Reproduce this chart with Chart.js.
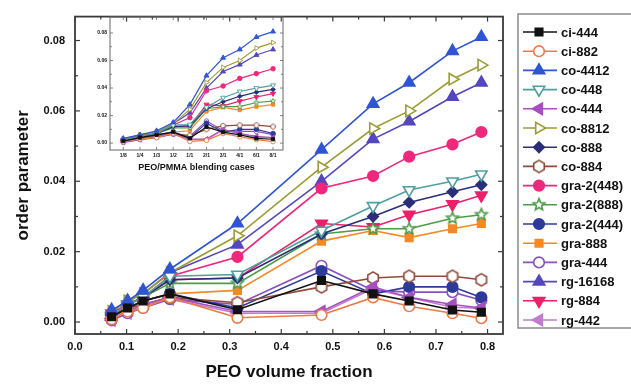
<!DOCTYPE html>
<html>
<head>
<meta charset="utf-8">
<script src="https://cdn.jsdelivr.net/npm/chart.js@4/dist/chart.umd.min.js"></script>
<style>
html, body { margin: 0; padding: 0; background: #fff; }
#wrap { position: relative; width: 631px; height: 385px; overflow: hidden; }
#main { position: absolute; left: 0; top: 0; }
#inset { position: absolute; left: 78px; top: 10px; }
</style>
</head>
<body>
<div id="wrap">
  <canvas id="main" width="631" height="385"></canvas>
  <canvas id="inset" width="212" height="165"></canvas>
</div>
<script>
// x values: PEO volume fraction, and the matching blend ratios for the inset
const peoFraction = [0.071, 0.102, 0.132, 0.184, 0.315, 0.478, 0.578, 0.648, 0.732, 0.788];
const blendCases = ['1/8', '1/4', '1/3', '1/2', '1/1', '2/1', '3/1', '4/1', '6/1', '8/1'];
const xTicks = [0, 0.1, 0.2, 0.3, 0.4, 0.5, 0.6, 0.7, 0.8];
const yTicks = [0, 0.02, 0.04, 0.06, 0.08];

// order parameter per system
const ci444   = [0.0015, 0.004, 0.006, 0.008, 0.0035, 0.0118, 0.008, 0.006, 0.0034, 0.0028];
const ci882   = [0.0008, 0.003, 0.004, 0.007, 0.0012, 0.002, 0.007, 0.0045, 0.0025, 0.0011];
const co4412  = [0.0034, 0.006, 0.009, 0.015, 0.028, 0.049, 0.062, 0.068, 0.077, 0.081];
const co448   = [0.002, 0.005, 0.007, 0.013, 0.0135, 0.026, 0.033, 0.0375, 0.040, 0.042];
const co444   = [0.001, 0.003, 0.005, 0.007, 0.003, 0.003, 0.010, 0.007, 0.005, 0.004];
const co8812  = [0.003, 0.006, 0.008, 0.014, 0.0245, 0.044, 0.055, 0.060, 0.069, 0.073];
const co888   = [0.002, 0.005, 0.007, 0.012, 0.0125, 0.025, 0.030, 0.034, 0.037, 0.039];
const co884   = [0.0015, 0.004, 0.005, 0.007, 0.0055, 0.010, 0.0125, 0.013, 0.013, 0.012];
const gra2448 = [0.0025, 0.005, 0.007, 0.013, 0.0185, 0.038, 0.0415, 0.047, 0.0505, 0.054];
const gra2888 = [0.002, 0.005, 0.007, 0.011, 0.011, 0.025, 0.0265, 0.0265, 0.0295, 0.0305];
const gra2444 = [0.0015, 0.004, 0.006, 0.008, 0.004, 0.0145, 0.008, 0.010, 0.010, 0.007];
const gra888  = [0.002, 0.004, 0.006, 0.008, 0.009, 0.023, 0.026, 0.024, 0.0265, 0.028];
const gra444  = [0.0005, 0.0025, 0.004, 0.0065, 0.005, 0.016, 0.009, 0.0085, 0.0085, 0.0062];
const rg16168 = [0.003, 0.006, 0.008, 0.014, 0.022, 0.040, 0.052, 0.057, 0.064, 0.068];
const rg884   = [0.0025, 0.005, 0.007, 0.012, 0.0125, 0.028, 0.027, 0.0305, 0.0335, 0.036];
const rg442   = [0.0005, 0.0025, 0.0045, 0.0065, 0.0025, 0.0025, 0.0095, 0.007, 0.0042, 0.0039];

const names = ['ci-444', 'ci-882', 'co-4412', 'co-448', 'co-444', 'co-8812', 'co-888', 'co-884',
  'gra-2(448)', 'gra-2(888)', 'gra-2(444)', 'gra-888', 'gra-444', 'rg-16168', 'rg-884', 'rg-442'];
const values = [ci444, ci882, co4412, co448, co444, co8812, co888, co884,
  gra2448, gra2888, gra2444, gra888, gra444, rg16168, rg884, rg442];

// look of each series: colour, marker, rotation, open/filled
const looks = [
  ['#111111', 'rect', 0, false],
  ['#f07a45', 'circle', 0, true],
  ['#2f55d4', 'triangle', 0, false],
  ['#4f9f9c', 'triangle', 180, true],
  ['#a64fc0', 'triangle', 270, false],
  ['#9c9c35', 'triangle', 90, true],
  ['#2b2f7a', 'rectRot', 0, false],
  ['#8f4a3a', 'hexagon', 0, true],
  ['#f0287c', 'circle', 0, false],
  ['#4d9a4a', 'star5', 0, true],
  ['#2e3a9a', 'circle', 0, false],
  ['#f58a25', 'rect', 0, false],
  ['#8a4fc0', 'circle', 0, true],
  ['#5347c0', 'triangle', 0, false],
  ['#ee1f6a', 'triangle', 180, false],
  ['#c07ccf', 'triangle', 270, false]
];

Chart.defaults.font.family = '"Liberation Sans", Arial, sans-serif';
Chart.defaults.font.weight = 'bold';
Chart.defaults.color = '#111';

// canvas markers for shapes Chart.js does not have
function shape(kind, r, color, lw) {
  const s = Math.ceil(r * 2 + lw * 2 + 2);
  const c = document.createElement('canvas');
  c.width = s; c.height = s;
  const g = c.getContext('2d');
  const n = kind === 'hexagon' ? 6 : 10;
  g.beginPath();
  for (let i = 0; i < n; i++) {
    const a = -Math.PI / 2 + i * 2 * Math.PI / n;
    const rr = kind === 'star5' && i % 2 ? r * 0.45 : r;
    const px = s / 2 + rr * Math.cos(a), py = s / 2 + rr * Math.sin(a);
    i ? g.lineTo(px, py) : g.moveTo(px, py);
  }
  g.closePath();
  g.fillStyle = '#fff'; g.fill();
  g.lineWidth = lw; g.strokeStyle = color; g.stroke();
  return c;
}

function makeSets(useIndex, r, lw, plw) {
  return names.map((name, k) => {
    const [color, style, rot, open] = looks[k];
    let ps = style;
    if (style === 'hexagon' || style === 'star5') ps = shape(style, r * 1.15, color, plw);
    const big = style === 'triangle' ? r * 1.25 : r;
    return {
      label: name,
      data: values[k].map((v, i) => ({ x: useIndex ? i : peoFraction[i], y: v })),
      borderColor: color,
      borderWidth: lw,
      pointStyle: ps,
      pointRotation: rot,
      pointRadius: big,
      pointBackgroundColor: open ? '#fff' : color,
      pointBorderColor: color,
      pointBorderWidth: plw
    };
  });
}

function framePlugin(o) {
  return {
    id: 'frame',
    afterDraw(chart) {
      const { ctx, chartArea: a, scales } = chart;
      const x = scales.x, y = scales.y;
      ctx.save();
      ctx.strokeStyle = o.color;
      ctx.lineWidth = o.tickWidth;
      const seg = (x1, y1, x2, y2) => { ctx.beginPath(); ctx.moveTo(x1, y1); ctx.lineTo(x2, y2); ctx.stroke(); };
      o.xMajor.forEach(v => { const p = x.getPixelForValue(v); seg(p, a.bottom, p, a.bottom - o.major); seg(p, a.top, p, a.top + o.major); });
      o.xMinor.forEach(v => { const p = x.getPixelForValue(v); seg(p, a.bottom, p, a.bottom - o.minor); seg(p, a.top, p, a.top + o.minor); });
      o.yMajor.forEach(v => { const p = y.getPixelForValue(v); seg(a.left, p, a.left + o.major, p); seg(a.right, p, a.right - o.major, p); });
      o.yMinor.forEach(v => { const p = y.getPixelForValue(v); seg(a.left, p, a.left + o.minor, p); seg(a.right, p, a.right - o.minor, p); });
      ctx.lineWidth = o.width;
      ctx.strokeRect(a.left, a.top, a.right - a.left, a.bottom - a.top);
      ctx.restore();
    }
  };
}

const legendBox = {
  id: 'legendBox',
  afterDraw(chart) {
    const ctx = chart.ctx;
    ctx.save();
    ctx.strokeStyle = '#8a8a8a';
    ctx.lineWidth = 1.5;
    ctx.strokeRect(518, 14, 120, 314);
    chart.data.datasets.forEach((ds, i) => {
      const yy = 32 + i * 19.2;
      ctx.strokeStyle = ds.borderColor;
      ctx.lineWidth = 1.6;
      ctx.beginPath(); ctx.moveTo(523, yy); ctx.lineTo(557, yy); ctx.stroke();
      ctx.fillStyle = ds.pointBackgroundColor;
      ctx.strokeStyle = ds.pointBorderColor;
      ctx.lineWidth = ds.pointBorderWidth;
      Chart.helpers.drawPoint(ctx, { pointStyle: ds.pointStyle, rotation: ds.pointRotation, radius: ds.pointRadius, borderWidth: ds.pointBorderWidth }, 539, yy);
      ctx.fillStyle = '#111';
      ctx.font = 'bold 13px "Liberation Sans", Arial, sans-serif';
      ctx.textBaseline = 'middle';
      ctx.fillText(ds.label, 561, yy + 1);
    });
    ctx.restore();
  }
};

const xMinor = [0.05, 0.15, 0.25, 0.35, 0.45, 0.55, 0.65, 0.75];
const yMinor = [0.01, 0.03, 0.05, 0.07];

new Chart(document.getElementById('main'), {
  type: 'line',
  data: { datasets: makeSets(false, 5.3, 1.6, 1.6) },
  options: {
    responsive: false,
    animation: false,
    layout: { padding: { top: 13, right: 128, left: 0, bottom: 0 } },
    plugins: { legend: { display: false }, tooltip: { enabled: false } },
    scales: {
      x: {
        type: 'linear', min: 0, max: 0.83,
        afterBuildTicks: s => { s.ticks = xTicks.map(v => ({ value: v })); },
        afterFit: s => { s.height = 51; },
        grid: { display: false, drawTicks: false },
        border: { display: false },
        ticks: { padding: 6, font: { size: 11, weight: 'bold' }, callback: v => v.toFixed(1) },
        title: { display: true, text: 'PEO volume fraction', font: { size: 17, weight: 'bold' }, padding: { top: 0, bottom: 2 } }
      },
      y: {
        type: 'linear', min: -0.0034, max: 0.0868,
        afterBuildTicks: s => { s.ticks = yTicks.map(v => ({ value: v })); },
        afterFit: s => { s.width = 75; },
        grid: { display: false, drawTicks: false },
        border: { display: false },
        ticks: { padding: 10, font: { size: 11, weight: 'bold' }, callback: v => v.toFixed(2) },
        title: { display: true, text: 'order parameter', font: { size: 17, weight: 'bold' }, padding: { top: 13, bottom: 0 } }
      }
    }
  },
  plugins: [framePlugin({ color: '#3a3a3a', width: 1.8, tickWidth: 1.2, major: 5, minor: 3, xMajor: xTicks, xMinor: xMinor, yMajor: yTicks, yMinor: yMinor }), legendBox]
});

const insetX = blendCases.map((c, i) => i);

new Chart(document.getElementById('inset'), {
  type: 'line',
  data: { datasets: makeSets(true, 2.3, 1.2, 0.9) },
  options: {
    responsive: false,
    animation: false,
    layout: { padding: { top: 7, right: 7, left: 0, bottom: 0 } },
    plugins: { legend: { display: false }, tooltip: { enabled: false } },
    scales: {
      x: {
        type: 'linear', min: -0.8, max: 9.6,
        afterBuildTicks: s => { s.ticks = insetX.map(v => ({ value: v })); },
        afterFit: s => { s.height = 25; },
        grid: { display: false, drawTicks: false },
        border: { display: false },
        ticks: { padding: 3, autoSkip: false, maxRotation: 0, font: { size: 5, weight: 'bold' }, callback: v => blendCases[v] },
        title: { display: true, text: 'PEO/PMMA blending cases', font: { size: 9, weight: 'bold' }, padding: { top: 0, bottom: 2 } }
      },
      y: {
        type: 'linear', min: -0.005, max: 0.0916,
        afterBuildTicks: s => { s.ticks = yTicks.map(v => ({ value: v })); },
        afterFit: s => { s.width = 32; },
        grid: { display: false, drawTicks: false },
        border: { display: false },
        ticks: { padding: 3, font: { size: 5, weight: 'bold' }, callback: v => v.toFixed(2) }
      }
    }
  },
  plugins: [framePlugin({ color: '#666', width: 1, tickWidth: 0.8, major: 3, minor: 2, xMajor: insetX, xMinor: [], yMajor: yTicks, yMinor: yMinor })]
});
</script>
</body>
</html>
